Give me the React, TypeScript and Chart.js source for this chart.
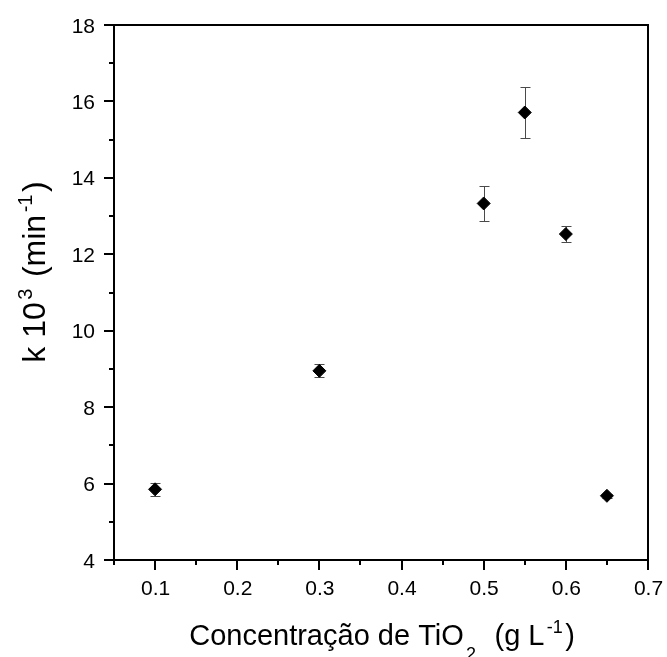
import React, { useEffect, useRef } from 'react';
import { Chart, registerables } from 'chart.js';

Chart.register(...registerables);

// ---- data ----
const concentration = [0.1, 0.3, 0.5, 0.55, 0.6, 0.65];
const kValues = [5.85, 8.95, 13.33, 15.71, 12.53, 5.68];
const kErrors = [0.17, 0.17, 0.46, 0.67, 0.21, 0.06];

const xMajorTicks = [0.1, 0.2, 0.3, 0.4, 0.5, 0.6, 0.7];
const xMinorTicks = [0.05, 0.15, 0.25, 0.35, 0.45, 0.55, 0.65];
const xTickLabels = ['0.1', '0.2', '0.3', '0.4', '0.5', '0.6', '0.7'];
const yMajorTicks = [4, 6, 8, 10, 12, 14, 16, 18];
const yMinorTicks = [5, 7, 9, 11, 13, 15, 17];
const yTickLabels = ['4', '6', '8', '10', '12', '14', '16', '18'];

const FONT = "'Liberation Sans', Arial, sans-serif";

type Seg = { t: string; k: 'n' | 'sup' | 'sub' };
const xTitle: Seg[] = [
  { t: 'Concentração de TiO', k: 'n' },
  { t: '2', k: 'sub' },
  { t: '  (g L', k: 'n' },
  { t: '-1', k: 'sup' },
  { t: ')', k: 'n' },
];
const yTitle: Seg[] = [
  { t: 'k 10', k: 'n' },
  { t: '3', k: 'sup' },
  { t: ' (min', k: 'n' },
  { t: '-1', k: 'sup' },
  { t: ')', k: 'n' },
];

function drawRich(ctx: CanvasRenderingContext2D, segs: Seg[], cx: number, baseY: number, size: number) {
  const small = Math.round(size * 0.62);
  const pad = size * 0.08;
  const widths = segs.map((s) => {
    ctx.font = `${s.k === 'n' ? size : small}px ${FONT}`;
    return ctx.measureText(s.t).width + (s.k === 'n' ? 0 : pad * 2);
  });
  const total = widths.reduce((a, b) => a + b, 0);
  let x = cx - total / 2;
  ctx.textAlign = 'left';
  ctx.textBaseline = 'alphabetic';
  ctx.fillStyle = '#000';
  segs.forEach((s, i) => {
    ctx.font = `${s.k === 'n' ? size : small}px ${FONT}`;
    const dy = s.k === 'sup' ? -size * 0.42 : s.k === 'sub' ? size * 0.5 : 0;
    ctx.fillText(s.t, x + (s.k === 'n' ? 0 : pad), baseY + dy);
    x += widths[i];
  });
}

const decorPlugin = {
  id: 'decor',
  beforeDatasetsDraw(chart: any) {
    const ctx = chart.ctx as CanvasRenderingContext2D;
    const xs = chart.scales.x;
    const ys = chart.scales.y;
    ctx.save();
    ctx.strokeStyle = '#4a4a4a';
    ctx.lineWidth = 1;
    concentration.forEach((c, i) => {
      const x = Math.round(xs.getPixelForValue(c)) + 0.5;
      const yt = Math.round(ys.getPixelForValue(kValues[i] + kErrors[i])) + 0.5;
      const yb = Math.round(ys.getPixelForValue(kValues[i] - kErrors[i])) + 0.5;
      ctx.beginPath();
      ctx.moveTo(x, yt);
      ctx.lineTo(x, yb);
      ctx.moveTo(x - 5, yt);
      ctx.lineTo(x + 5, yt);
      ctx.moveTo(x - 5, yb);
      ctx.lineTo(x + 5, yb);
      ctx.stroke();
    });
    ctx.restore();
  },
  afterDraw(chart: any) {
    const ctx = chart.ctx as CanvasRenderingContext2D;
    const { left, right, top, bottom } = chart.chartArea;
    const xs = chart.scales.x;
    const ys = chart.scales.y;
    ctx.save();
    ctx.strokeStyle = '#000';
    ctx.lineWidth = 2;
    ctx.strokeRect(left, top, right - left, bottom - top);
    ctx.beginPath();
    yMajorTicks.forEach((v) => {
      const y = Math.round(ys.getPixelForValue(v));
      ctx.moveTo(left - 10, y);
      ctx.lineTo(left, y);
    });
    yMinorTicks.forEach((v) => {
      const y = Math.round(ys.getPixelForValue(v));
      ctx.moveTo(left - 5, y);
      ctx.lineTo(left, y);
    });
    xMajorTicks.forEach((v) => {
      const x = Math.round(xs.getPixelForValue(v));
      ctx.moveTo(x, bottom);
      ctx.lineTo(x, bottom + 10);
    });
    xMinorTicks.forEach((v) => {
      const x = Math.round(xs.getPixelForValue(v));
      ctx.moveTo(x, bottom);
      ctx.lineTo(x, bottom + 5);
    });
    ctx.stroke();

    // tick labels
    ctx.fillStyle = '#000';
    ctx.font = `21px ${FONT}`;
    ctx.textBaseline = 'alphabetic';
    ctx.textAlign = 'right';
    yMajorTicks.forEach((v, i) => {
      const y = ys.getPixelForValue(v);
      ctx.fillText(yTickLabels[i], left - 19, y + 7.5);
    });
    ctx.textAlign = 'center';
    xMajorTicks.forEach((v, i) => {
      const x = xs.getPixelForValue(v);
      ctx.fillText(xTickLabels[i], x + 0.5, bottom + 35);
    });

    drawRich(ctx, xTitle, 382, 645, 29);
    ctx.save();
    ctx.translate(45, 272);
    ctx.rotate(-Math.PI / 2);
    drawRich(ctx, yTitle, 0, 0, 32);
    ctx.restore();
    ctx.restore();
  },
};

export default function App() {
  const ref = useRef<HTMLCanvasElement | null>(null);
  useEffect(() => {
    if (!ref.current) return;
    const chart = new Chart(ref.current, {
      type: 'scatter',
      data: {
        datasets: [
          {
            data: concentration.map((c, i) => ({ x: c, y: kValues[i] })),
            pointStyle: 'rectRot',
            pointRadius: 6.5,
            pointBackgroundColor: '#000',
            pointBorderColor: '#000',
            pointBorderWidth: 1,
            showLine: false,
          },
        ],
      },
      options: {
        responsive: false,
        animation: false,
        devicePixelRatio: 1,
        layout: { padding: { top: 25, right: 19, left: 0, bottom: 0 } },
        plugins: { legend: { display: false }, tooltip: { enabled: false } },
        scales: {
          x: {
            type: 'linear',
            min: 0.05,
            max: 0.7,
            grid: { display: false, drawTicks: false },
            border: { display: false },
            ticks: { display: false },
            afterFit: (s: any) => {
              s.height = 97;
            },
          },
          y: {
            type: 'linear',
            min: 4,
            max: 18,
            grid: { display: false, drawTicks: false },
            border: { display: false },
            ticks: { display: false },
            afterFit: (s: any) => {
              s.width = 114;
            },
          },
        },
      },
      plugins: [decorPlugin],
    });
    return () => chart.destroy();
  }, []);
  return (
    <div style={{ position: 'fixed', left: 0, top: 0, width: 667, height: 657, background: '#fff' }}>
      <canvas ref={ref} width={667} height={657} style={{ display: 'block' }} />
    </div>
  );
}
